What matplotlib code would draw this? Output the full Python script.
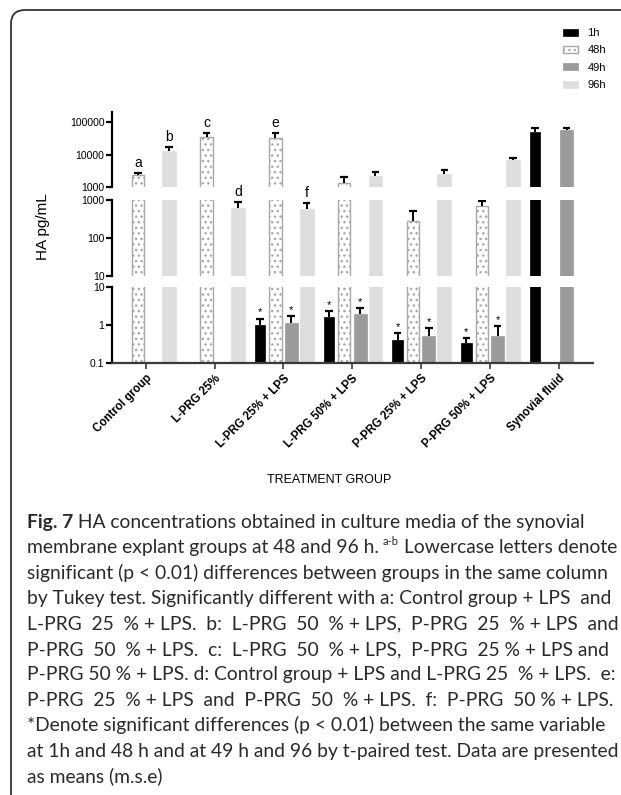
import numpy as np
import matplotlib
matplotlib.use("Agg")
import matplotlib.pyplot as plt
from matplotlib.patches import FancyBboxPatch, Patch

# Dados (HA pg/mL, media e erro padrao)
grupos = ["Control group", "L-PRG 25%", "L-PRG 25% + LPS", "L-PRG 50% + LPS",
          "P-PRG 25% + LPS", "P-PRG 50% + LPS", "Synovial fluid"]
nan = np.nan
ha_1h = [nan, nan, 0.97, 1.65, 0.39, 0.33, 50000]
erro_1h = [nan, nan, 0.50, 0.65, 0.22, 0.12, 15000]
ha_48h = [2400, 34000, 33000, 1400, 280, 680, nan]
erro_48h = [400, 12000, 14000, 600, 210, 240, nan]
ha_49h = [nan, nan, 1.1, 2.0, 0.52, 0.52, 55000]
erro_49h = [nan, nan, 0.60, 0.75, 0.32, 0.40, 12000]
ha_96h = [13000, 620, 560, 2250, 2550, 6800, nan]
erro_96h = [4500, 260, 250, 650, 850, 1200, nan]

tempos = ["1h", "48h", "49h", "96h"]

# letras de Tukey e asteriscos do t pareado
letras = [("48h", 0, "a"), ("96h", 0, "b"), ("48h", 1, "c"),
          ("96h", 1, "d"), ("48h", 2, "e"), ("96h", 2, "f")]
asteriscos = [("1h", 2), ("49h", 2), ("1h", 3), ("49h", 3),
              ("1h", 4), ("49h", 4), ("1h", 5), ("49h", 5)]

# eixo quebrado em tres faixas
faixas = [(1000, 10 ** 5.306), (10, 1000), (0.1, 10)]
ticks_faixas = [[1000, 10000, 100000], [10, 100, 1000], [0.1, 1, 10]]
rotulos_faixas = [["1000", "10000", "100000"], ["10", "100", "1000"], ["0.1", "1", "10"]]

legenda_linhas = [
    [("Fig. 7", "bold"), (" HA concentrations obtained in culture media of the synovial", "normal")],
    [("membrane explant groups at 48 and 96 h.", "normal"), ("a-b", "sup"), ("Lowercase letters denote", "normal")],
    [("significant (p < 0.01) differences between groups in the same column", "normal")],
    [("by Tukey test. Significantly different with a: Control group + LPS  and", "normal")],
    [("L-PRG  25  % + LPS.  b:  L-PRG  50  % + LPS,  P-PRG  25  % + LPS  and", "normal")],
    [("P-PRG  50  % + LPS.  c:  L-PRG  50  % + LPS,  P-PRG  25 % + LPS and", "normal")],
    [("P-PRG 50 % + LPS. d: Control group + LPS and L-PRG 25  % + LPS.  e:", "normal")],
    [("P-PRG  25  % + LPS  and  P-PRG  50  % + LPS.  f:  P-PRG  50 % + LPS.", "normal")],
    [("*Denote significant differences (p < 0.01) between the same variable", "normal")],
    [("at 1h and 48 h and at 49 h and 96 by t-paired test. Data are presented", "normal")],
    [("as means (m.s.e)", "normal")],
]

ESTILO = {
    "1h": dict(offset=-0.339, largura=0.15, cor="black", borda="black", hatch=None, lw=0.5),
    "48h": dict(offset=-0.115, largura=0.18, cor="white", borda="#a8a8a8", hatch="...", lw=1.0),
    "49h": dict(offset=0.115, largura=0.19, cor="#9b9b9b", borda="#9b9b9b", hatch=None, lw=0.5),
    "96h": dict(offset=0.339, largura=0.20, cor="#dedede", borda="#dedede", hatch=None, lw=0.5),
}
DADOS = {"1h": (ha_1h, erro_1h), "48h": (ha_48h, erro_48h),
         "49h": (ha_49h, erro_49h), "96h": (ha_96h, erro_96h)}
BASE = 1e-3
W, H = 621, 795
FONTE = ["Liberation Sans", "DejaVu Sans"]


def _desenhar_barras(ax, lims):
    x = np.arange(len(grupos))
    for t in tempos:
        st = ESTILO[t]
        v = np.array(DADOS[t][0], dtype=float)
        e = np.array(DADOS[t][1], dtype=float)
        ax.bar(x + st["offset"], v - BASE, bottom=BASE, width=st["largura"],
               color=st["cor"], edgecolor=st["borda"], hatch=st["hatch"],
               linewidth=st["lw"], zorder=2)
        # barras de erro so na faixa onde o topo do erro cai
        ok = ~np.isnan(v) & (v + e >= lims[0]) & (v <= lims[1])
        ax.vlines(x[ok] + st["offset"], v[ok], v[ok] + e[ok], color="black", lw=1.4, zorder=3)
        ax.hlines(v[ok] + e[ok], x[ok] + st["offset"] - 0.055, x[ok] + st["offset"] + 0.055,
                  color="black", lw=1.6, zorder=3)


def _eixo(fig, rect, lims, ticks, rotulos, base=False):
    ax = fig.add_axes(rect)
    ax.set_yscale("log")
    _desenhar_barras(ax, lims)
    ax.set_xlim(-0.49, 6.5)
    ax.set_ylim(*lims)
    ax.set_yticks(ticks, rotulos)
    ax.minorticks_off()
    for s in ["top", "right"]:
        ax.spines[s].set_visible(False)
    ax.spines["left"].set_linewidth(1.6)
    ax.tick_params(axis="y", direction="out", length=4, width=1.6, labelsize=7.5, pad=1.5)
    if base:
        ax.spines["bottom"].set_linewidth(1.6)
        ax.spines["bottom"].set_color("#3a3a3a")
        ax.set_xticks(np.arange(len(grupos)))
        ax.set_xticklabels(grupos, rotation=45, ha="right", rotation_mode="anchor",
                           fontsize=8.3, fontweight="bold")
        ax.tick_params(axis="x", direction="out", length=4, width=1.2, color="#3a3a3a", pad=3)
    else:
        ax.spines["bottom"].set_visible(False)
        ax.tick_params(axis="x", bottom=False, labelbottom=False)
    return ax


def _anotar(axs):
    x = np.arange(len(grupos))
    for t, i, letra in letras:
        v, e = DADOS[t][0][i], DADOS[t][1][i]
        topo = v + e
        ax = axs[0] if topo > 1000 else axs[1]
        ax.text(x[i] + ESTILO[t]["offset"], topo * 1.22, letra, ha="center", va="bottom",
                fontsize=10, clip_on=False)
    for t, i in asteriscos:
        v, e = DADOS[t][0][i], DADOS[t][1][i]
        axs[2].text(x[i] + ESTILO[t]["offset"], (v + e) * 1.08, "*", ha="center", va="bottom",
                    fontsize=8, clip_on=False)


def _legenda_figura(fig):
    r = fig.canvas.get_renderer()
    y = 1 - 528 / H
    for linha in legenda_linhas:
        xpix = 27
        for texto, tipo in linha:
            if tipo == "sup":
                xpix += 4
                t = fig.text(xpix / W, y + 8 / H, texto, fontsize=8, family="Lato",
                             color="#2a2a2a", va="baseline")
                xpix = t.get_window_extent(r).x1 + 5
                continue
            t = fig.text(xpix / W, y, texto, fontsize=13.9, family="Lato",
                         fontweight=tipo, color="#2a2a2a", va="baseline")
            xpix = t.get_window_extent(r).x1
        y -= 25.4 / H


def plotar():
    plt.rcParams["font.family"] = FONTE
    fig = plt.figure(figsize=(W / 100, H / 100), dpi=100)
    esq, larg = 112 / W, (593 - 112) / W
    rects = [[esq, 1 - 187.3 / H, larg, 75.3 / H],
             [esq, 1 - 275.7 / H, larg, 76.0 / H],
             [esq, 1 - 362.7 / H, larg, 75.4 / H]]
    axs = [_eixo(fig, rects[k], faixas[k], ticks_faixas[k], rotulos_faixas[k], base=(k == 2))
           for k in range(3)]
    _anotar(axs)

    fig.text(43 / W, 1 - 227 / H, "HA pg/mL", rotation=90, ha="center", va="center", fontsize=11)
    fig.text(329 / W, 1 - 480 / H, "TREATMENT GROUP", ha="center", va="center", fontsize=9)

    alcas = [Patch(facecolor=ESTILO[t]["cor"], edgecolor=ESTILO[t]["borda"],
                   hatch=ESTILO[t]["hatch"], linewidth=ESTILO[t]["lw"]) for t in tempos]
    fig.legend(alcas, tempos, loc="upper left", bbox_to_anchor=(563 / W, 1 - 28 / H),
               frameon=False, fontsize=8, handlelength=1.35, handleheight=0.6,
               handletextpad=0.85, labelspacing=0.66, borderpad=0, borderaxespad=0)

    moldura = FancyBboxPatch((0.11, -0.2), 6.5, 7.85 + 0.2,
                             boxstyle="round,pad=0,rounding_size=0.14",
                             transform=fig.dpi_scale_trans, facecolor="none",
                             edgecolor="#333333", linewidth=1.3, clip_on=False)
    fig.patches.append(moldura)

    _legenda_figura(fig)
    fig.savefig("out.png", dpi=100)


if __name__ == "__main__":
    plotar()
